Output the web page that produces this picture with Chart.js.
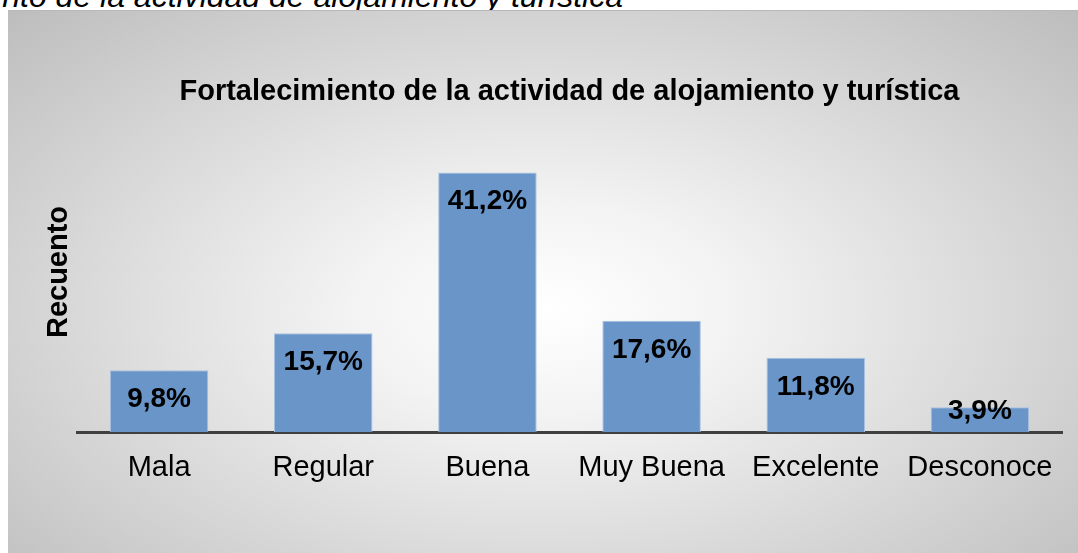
<html>
  <head>
    <script src="https://cdn.jsdelivr.net/npm/chart.js"></script>
    <meta charset="UTF-8" />
    <style>
      body { margin: 0; width: 1078px; height: 553px; overflow: hidden; background: #fff; position: relative; }
      #caption {
        position: absolute; right: 455px; top: -22px; white-space: nowrap;
        font: italic 32px "Liberation Sans", Arial, sans-serif; color: #000;
      }
      #box {
        position: absolute; left: 8px; top: 10px; right: 0; bottom: 0;
        border-top: 1px solid #b8b8b8;
        background: radial-gradient(ellipse farthest-corner at 50% 55%, #ffffff 0%, #f3f3f3 25%, #bdbdbd 100%);
      }
      #wrap { position: absolute; left: 0; top: 0; width: 1078px; height: 553px; }
    </style>
  </head>
  <body>
    <div id="caption">Fortalecimiento de la actividad de alojamiento y turística</div>
    <div id="box"></div>
    <div id="wrap"><canvas id="myChart" width="1078" height="553"></canvas></div>
    <script>
      const categories = ["Mala", "Regular", "Buena", "Muy Buena", "Excelente", "Desconoce"];
      const counts = [5, 8, 21, 9, 6, 2];
      const percentLabels = ["9,8%", "15,7%", "41,2%", "17,6%", "11,8%", "3,9%"];

      const fontFamily = '"Liberation Sans", Arial, sans-serif';

      // percentages inside the bar tops, Excel style
      const barLabels = {
        id: "barLabels",
        afterDatasetsDraw(chart) {
          const ctx = chart.ctx;
          const meta = chart.getDatasetMeta(0);
          ctx.save();
          ctx.font = "bold 28px " + fontFamily;
          ctx.fillStyle = "#000";
          ctx.textAlign = "center";
          ctx.textBaseline = "middle";
          meta.data.forEach((bar, i) => {
            const y = Math.min(bar.y + 29, bar.base - 21);
            ctx.fillText(percentLabels[i], bar.x, y);
          });
          ctx.restore();
        },
      };

      const yTitle = {
        id: "yTitle",
        afterDraw(chart) {
          const ctx = chart.ctx;
          ctx.save();
          ctx.translate(59, 272);
          ctx.rotate(-Math.PI / 2);
          ctx.font = "bold 29px " + fontFamily;
          ctx.fillStyle = "#000";
          ctx.textAlign = "center";
          ctx.textBaseline = "middle";
          ctx.fillText("Recuento", 0, 0);
          ctx.restore();
        },
      };

      new Chart(document.getElementById("myChart"), {
        type: "bar",
        data: {
          labels: categories,
          datasets: [
            {
              label: "Recuento",
              data: counts,
              backgroundColor: "#6a95c8",
              borderColor: "#a9c1e0",
              borderWidth: 1,
              categoryPercentage: 1,
              barPercentage: 0.6,
            },
          ],
        },
        options: {
          responsive: false,
          animation: false,
          layout: { padding: { left: 0, right: 16, top: 0, bottom: 0 } },
          plugins: {
            legend: { display: false },
            tooltip: { enabled: false },
            title: {
              display: true,
              fullSize: false,
              text: "Fortalecimiento de la actividad de alojamiento y turística",
              color: "#000",
              font: { family: fontFamily, size: 29, weight: "bold", lineHeight: 1.2 },
              padding: { top: 75, bottom: 38 },
            },
          },
          scales: {
            x: {
              grid: { display: false },
              border: { display: true, color: "#404040", width: 3 },
              ticks: {
                color: "#000",
                padding: 11,
                font: { family: fontFamily, size: 29 },
              },
              afterFit(scale) {
                scale.height = 121;
              },
            },
            y: {
              min: 0,
              max: 23,
              grid: { display: false },
              border: { display: false },
              ticks: { display: false },
              afterFit(scale) {
                scale.width = 77;
              },
            },
          },
        },
        plugins: [barLabels, yTitle],
      });
    </script>
  </body>
</html>
